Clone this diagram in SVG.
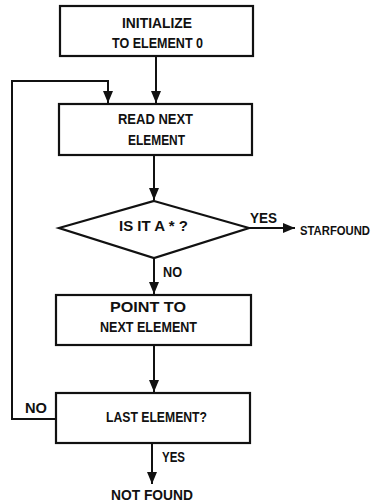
<svg xmlns="http://www.w3.org/2000/svg" width="385" height="503" viewBox="0 0 385 503">
<style>
.box{fill:#fff;stroke:#111;stroke-width:2.2}
.ln{fill:none;stroke:#111;stroke-width:2}
text{font-family:"Liberation Sans",Arial,sans-serif;font-weight:bold;font-size:15px;fill:#111}
.sm{font-size:13px}
</style>
<defs>
<marker id="ah" viewBox="0 0 12 10" refX="12" refY="5" markerWidth="12" markerHeight="10" markerUnits="userSpaceOnUse" orient="auto">
<path d="M0,0 L12,5 L0,10 Z" fill="#111"/>
</marker>
</defs>
<rect width="385" height="503" fill="#fff"/>
<g id="connectors">
<line class="ln" x1="156" y1="56" x2="156" y2="103" marker-end="url(#ah)"/>
<polyline class="ln" points="56,419 12,419 12,81 108,81 108,103" marker-end="url(#ah)"/>
<line class="ln" x1="154" y1="155" x2="154" y2="200" marker-end="url(#ah)"/>
<line class="ln" x1="249" y1="228" x2="295" y2="228" marker-end="url(#ah)"/>
<line class="ln" x1="154" y1="258" x2="154" y2="294" marker-end="url(#ah)"/>
<line class="ln" x1="154" y1="345" x2="154" y2="392" marker-end="url(#ah)"/>
<line class="ln" x1="152" y1="444" x2="152" y2="484" marker-end="url(#ah)"/>
<text x="250" y="223" textLength="27" lengthAdjust="spacingAndGlyphs">YES</text>
<text x="163" y="277" textLength="19" lengthAdjust="spacingAndGlyphs">NO</text>
<text x="25" y="413" textLength="22" lengthAdjust="spacingAndGlyphs">NO</text>
<text x="162" y="462" textLength="23" lengthAdjust="spacingAndGlyphs">YES</text>
</g>
<g id="init">
<rect class="box" x="60" y="6" width="193" height="50"/>
<text x="122" y="28" textLength="70" lengthAdjust="spacingAndGlyphs">INITIALIZE</text>
<text x="112" y="48" textLength="91" lengthAdjust="spacingAndGlyphs">TO ELEMENT 0</text>
</g>
<g id="read">
<rect class="box" x="59" y="104" width="193" height="51"/>
<text x="118" y="124" textLength="75" lengthAdjust="spacingAndGlyphs">READ NEXT</text>
<text x="128" y="145" textLength="57" lengthAdjust="spacingAndGlyphs">ELEMENT</text>
</g>
<g id="decision">
<polygon class="box" points="154,201 249,228 154,258 59,228"/>
<text x="119" y="231" textLength="69" lengthAdjust="spacingAndGlyphs">IS IT A * ?</text>
</g>
<g id="starfound">
<text class="sm" x="300" y="235" textLength="70" lengthAdjust="spacingAndGlyphs">STARFOUND</text>
</g>
<g id="point">
<rect class="box" x="56" y="295" width="195" height="50"/>
<text x="110" y="312" textLength="76" lengthAdjust="spacingAndGlyphs">POINT TO</text>
<text x="100" y="332" textLength="97" lengthAdjust="spacingAndGlyphs">NEXT ELEMENT</text>
</g>
<g id="last">
<rect class="box" x="56" y="393" width="194" height="50"/>
<text x="106" y="422" textLength="101" lengthAdjust="spacingAndGlyphs">LAST ELEMENT?</text>
</g>
<g id="notfound">
<text x="111" y="500" textLength="82" lengthAdjust="spacingAndGlyphs">NOT FOUND</text>
</g>
</svg>
